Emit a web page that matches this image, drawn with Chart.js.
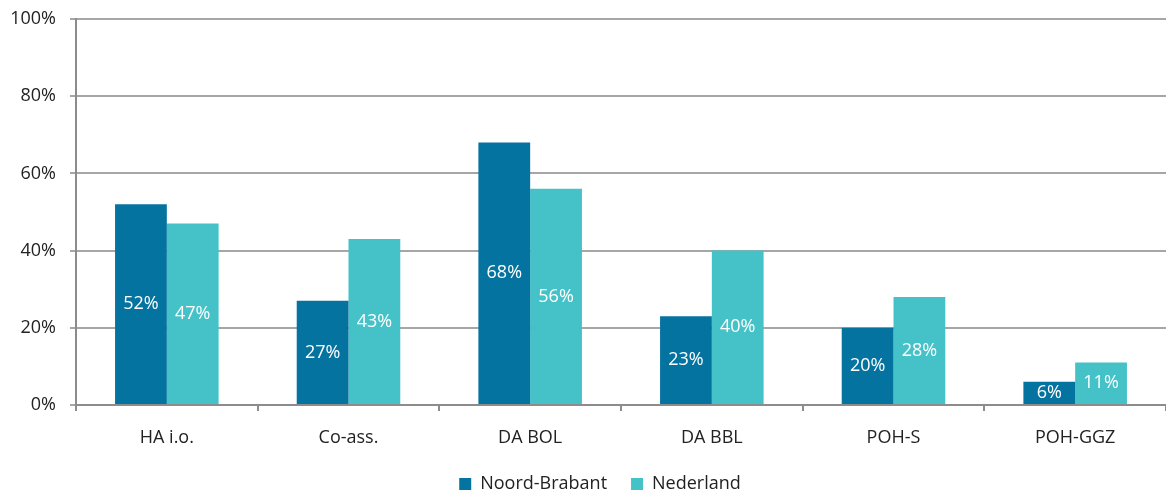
<!DOCTYPE html>
<html>
<head>
<meta charset="utf-8">
<script src="https://cdn.jsdelivr.net/npm/chart.js@4/dist/chart.umd.min.js"></script>
<style>
  html, body { margin: 0; padding: 0; background: #fff; }
  #wrap { width: 1166px; height: 491px; }
</style>
</head>
<body>
<div id="wrap"><canvas id="chart"></canvas></div>
<script>
const categories = ['HA i.o.', 'Co-ass.', 'DA BOL', 'DA BBL', 'POH-S', 'POH-GGZ'];
const noordBrabant = [52, 27, 68, 23, 20, 6];
const nederland = [47, 43, 56, 40, 28, 11];
const yTicks = [0, 20, 40, 60, 80, 100];

const FONT = '"Open Sans", "Liberation Sans", sans-serif';

// white value labels in the middle of each bar
const barLabels = {
    id: 'barLabels',
    afterDatasetsDraw(chart) {
        const ctx = chart.ctx;
        ctx.save();
        ctx.fillStyle = '#ffffff';
        ctx.font = '18px ' + FONT;
        ctx.textAlign = 'center';
        ctx.textBaseline = 'middle';
        chart.data.datasets.forEach((ds, i) => {
            chart.getDatasetMeta(i).data.forEach((bar, j) => {
                const mid = (bar.y + bar.base) / 2;
                ctx.fillText(ds.data[j] + '%', bar.x, mid);
            });
        });
        ctx.restore();
    }
};

// legend in the original sits a bit right of the canvas centre
const legendShift = {
    id: 'legendShift',
    afterLayout(chart) {
        chart.legend.left += 17;
        chart.legend.right += 17;
    }
};

new Chart(document.getElementById('chart'), {
    type: 'bar',
    data: {
        labels: categories,
        datasets: [{
            label: 'Noord-Brabant',
            data: noordBrabant,
            backgroundColor: '#0573a0',
            categoryPercentage: 0.57,
            barPercentage: 1
        }, {
            label: 'Nederland',
            data: nederland,
            backgroundColor: '#45c2c8',
            categoryPercentage: 0.57,
            barPercentage: 1
        }]
    },
    options: {
        responsive: true,
        maintainAspectRatio: false,
        animation: false,
        layout: { padding: { top: 19, right: 0, left: 0, bottom: -12 } },
        plugins: {
            tooltip: { enabled: false },
            legend: {
                position: 'bottom',
                labels: {
                    boxWidth: 12,
                    boxHeight: 12,
                    padding: 24,
                    color: '#222',
                    font: { family: FONT, size: 18 }
                }
            }
        },
        scales: {
            x: {
                offset: true,
                grid: {
                    display: true,
                    offset: true,
                    drawOnChartArea: false,
                    drawTicks: true,
                    tickLength: 6,
                    color: '#8c8c8c',
                    lineWidth: 2
                },
                border: { color: '#8c8c8c', width: 2 },
                ticks: {
                    color: '#222',
                    padding: 16,
                    font: { family: FONT, size: 18 }
                },
                afterFit(scale) {
                    scale.height = 46;
                    scale.paddingLeft = 0;
                    scale.paddingRight = 0;
                }
            },
            y: {
                min: 0,
                max: 100,
                afterBuildTicks(scale) {
                    scale.ticks = yTicks.map(v => ({ value: v }));
                },
                grid: {
                    color: '#a6a6a6',
                    lineWidth: 2,
                    tickLength: 6
                },
                border: { color: '#8c8c8c', width: 2 },
                ticks: {
                    color: '#222',
                    padding: 14,
                    font: { family: FONT, size: 18 },
                    callback: v => v + '%'
                },
                afterFit(scale) {
                    scale.width = 76;
                    scale.paddingTop = 0;
                    scale.paddingBottom = 0;
                }
            }
        }
    },
    plugins: [barLabels, legendShift]
});
</script>
</body>
</html>
